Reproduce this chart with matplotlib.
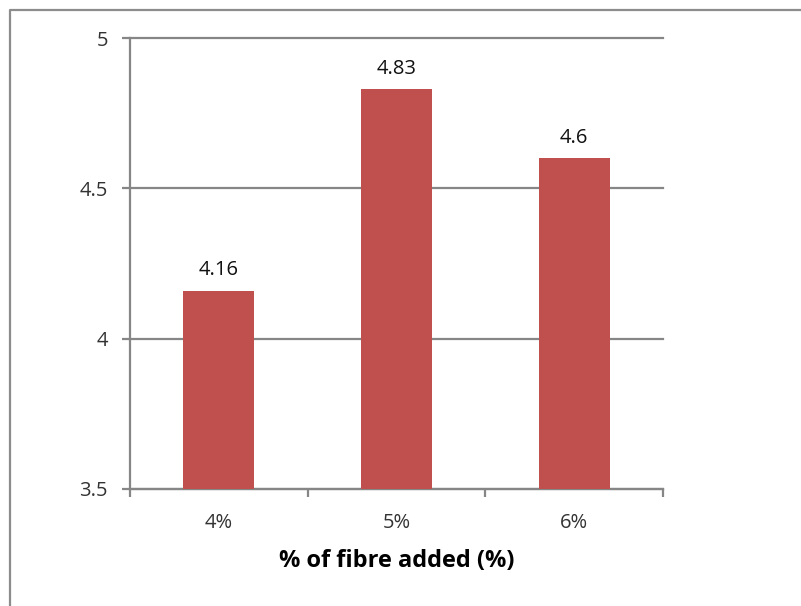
import numpy as np
import matplotlib.pyplot as plt
from matplotlib.lines import Line2D

# values
categories = ['4%', '5%', '6%']
values = [4.16, 4.83, 4.6]
value_labels = ['4.16', '4.83', '4.6']
y_ticks = [3.5, 4, 4.5, 5]
y_tick_labels = ['3.5', '4', '4.5', '5']

plt.rcParams['font.family'] = ['Open Sans', 'DejaVu Sans']

fig = plt.figure(figsize=(8.01, 6.06), dpi=100)
ax = fig.add_axes([130/801, 1-489/606, 533/801, 451/606])

grey = '#868686'
x = np.arange(len(categories))
ax.bar(x, values, width=0.4, color='#C0504D', zorder=3)

for xi, v, lab in zip(x, values, value_labels):
    ax.text(xi, v + 0.035, lab, ha='center', va='bottom', fontsize=14.5, color='#111111')

ax.set_ylim(3.5, 5)
ax.set_xlim(-0.5, 2.5)
ax.set_yticks(y_ticks)
ax.set_yticklabels(y_tick_labels)
ax.yaxis.grid(True, color=grey, linewidth=1.6, zorder=0)
for gl in ax.get_ygridlines():
    gl.set_clip_on(False)

# category labels in the middle, ticks on the boundaries
ax.set_xticks(x)
ax.set_xticklabels(categories)
ax.set_xticks(np.arange(-0.5, len(categories)), minor=True)
ax.tick_params(axis='x', which='major', length=0, pad=17, labelsize=14.5, labelcolor='#333333')
ax.tick_params(axis='x', which='minor', length=6, width=1.6, color=grey)
ax.tick_params(axis='y', length=6, width=1.6, color=grey, pad=10, labelsize=14.5, labelcolor='#333333')

for s in ['top', 'right']:
    ax.spines[s].set_visible(False)
for s in ['left', 'bottom']:
    ax.spines[s].set_color(grey)
    ax.spines[s].set_linewidth(1.6)

ax.set_xlabel('% of fibre added (%)', fontsize=17, fontweight='bold', labelpad=12)

# outer chart frame (only top and left visible)
fig.add_artist(Line2D([10/801, 10/801, 1], [0, 1-10/606, 1-10/606],
                      transform=fig.transFigure, color='#8c8c8c', linewidth=1.6))

fig.savefig('out.png', dpi=100)
